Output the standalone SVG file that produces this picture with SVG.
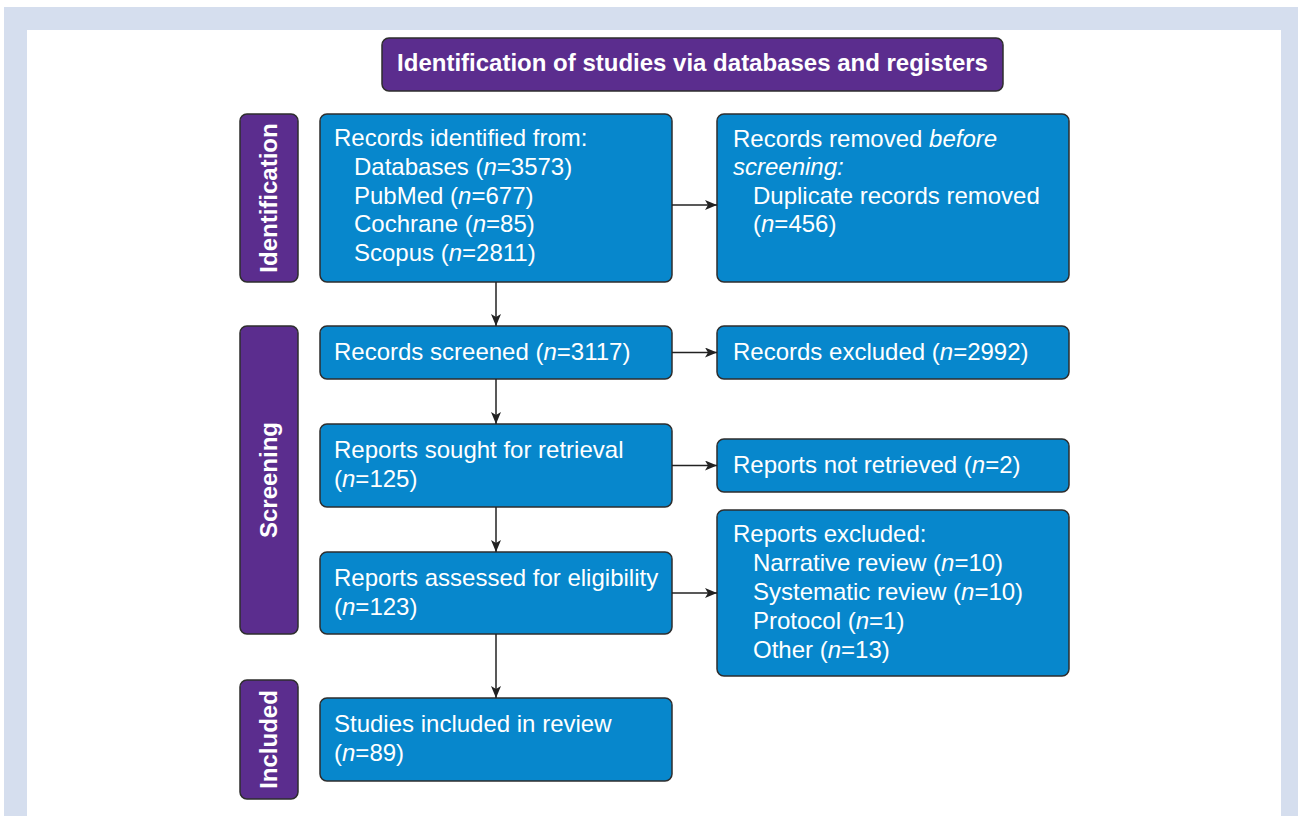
<svg xmlns="http://www.w3.org/2000/svg" width="1298" height="816" viewBox="0 0 1298 816">
<style>
.box{fill:#0787CC;stroke:#2e2e2e;stroke-width:1.5}
.lab{fill:#5B2D8E;stroke:#2e2e2e;stroke-width:1.5}
.t{font-family:"Liberation Sans",Arial,sans-serif;font-size:24px;fill:#ffffff}
.b{font-family:"Liberation Sans",Arial,sans-serif;font-size:24px;font-weight:bold;fill:#ffffff}
.c{stroke:#222;stroke-width:1.5;fill:none}
</style>
<defs>
<marker id="ah" viewBox="0 0 12 10" refX="12" refY="5" markerWidth="12" markerHeight="10" markerUnits="userSpaceOnUse" orient="auto">
<path d="M0,0 L12,5 L0,10 L3,5 Z" fill="#222"/>
</marker>
</defs>
<rect x="4" y="7" width="1294" height="809" fill="#D5DEEE"/>
<rect x="27" y="30" width="1254" height="786" fill="#ffffff"/>

<g id="title">
<rect class="lab" x="382" y="38" width="621" height="53" rx="7"/>
<text class="b" x="692.5" y="71" text-anchor="middle">Identification of studies via databases and registers</text>
</g>

<g id="lab-identification">
<rect class="lab" x="240" y="114" width="58" height="168" rx="7"/>
<text class="b" transform="translate(277,198) rotate(-90)" text-anchor="middle">Identification</text>
</g>
<g id="lab-screening">
<rect class="lab" x="240" y="326" width="58" height="308" rx="7"/>
<text class="b" transform="translate(277,480) rotate(-90)" text-anchor="middle">Screening</text>
</g>
<g id="lab-included">
<rect class="lab" x="240" y="680" width="58" height="119" rx="7"/>
<text class="b" transform="translate(277,739.5) rotate(-90)" text-anchor="middle">Included</text>
</g>

<g id="n-identified">
<rect class="box" x="320" y="114" width="352" height="168" rx="7"/>
<text class="t" x="334" y="146">Records identified from:</text>
<text class="t" x="354" y="175">Databases (<tspan font-style="italic">n</tspan>=3573)</text>
<text class="t" x="354" y="203.5">PubMed (<tspan font-style="italic">n</tspan>=677)</text>
<text class="t" x="354" y="232">Cochrane (<tspan font-style="italic">n</tspan>=85)</text>
<text class="t" x="354" y="261">Scopus (<tspan font-style="italic">n</tspan>=2811)</text>
</g>
<g id="n-removed">
<rect class="box" x="717" y="114" width="352" height="168" rx="7"/>
<text class="t" x="733" y="146.5">Records removed <tspan font-style="italic">before</tspan></text>
<text class="t" x="733" y="175" font-style="italic">screening:</text>
<text class="t" x="753" y="203.5">Duplicate records removed</text>
<text class="t" x="753" y="232">(<tspan font-style="italic">n</tspan>=456)</text>
</g>
<g id="n-screened">
<rect class="box" x="320" y="326" width="352" height="53" rx="7"/>
<text class="t" x="334" y="360">Records screened (<tspan font-style="italic">n</tspan>=3117)</text>
</g>
<g id="n-excluded">
<rect class="box" x="717" y="326" width="352" height="53" rx="7"/>
<text class="t" x="733" y="360">Records excluded (<tspan font-style="italic">n</tspan>=2992)</text>
</g>
<g id="n-sought">
<rect class="box" x="320" y="424" width="352" height="83" rx="7"/>
<text class="t" x="334" y="458">Reports sought for retrieval</text>
<text class="t" x="334" y="486.5">(<tspan font-style="italic">n</tspan>=125)</text>
</g>
<g id="n-notretrieved">
<rect class="box" x="717" y="439" width="352" height="53" rx="7"/>
<text class="t" x="733" y="473">Reports not retrieved (<tspan font-style="italic">n</tspan>=2)</text>
</g>
<g id="n-assessed">
<rect class="box" x="320" y="552" width="352" height="82" rx="7"/>
<text class="t" x="334" y="586">Reports assessed for eligibility</text>
<text class="t" x="334" y="614.5">(<tspan font-style="italic">n</tspan>=123)</text>
</g>
<g id="n-repexcluded">
<rect class="box" x="717" y="510" width="352" height="166" rx="7"/>
<text class="t" x="733" y="542">Reports excluded:</text>
<text class="t" x="753" y="571">Narrative review (<tspan font-style="italic">n</tspan>=10)</text>
<text class="t" x="753" y="600">Systematic review (<tspan font-style="italic">n</tspan>=10)</text>
<text class="t" x="753" y="629">Protocol (<tspan font-style="italic">n</tspan>=1)</text>
<text class="t" x="753" y="657.5">Other (<tspan font-style="italic">n</tspan>=13)</text>
</g>
<g id="n-included">
<rect class="box" x="320" y="698" width="352" height="83" rx="7"/>
<text class="t" x="334" y="732">Studies included in review</text>
<text class="t" x="334" y="761">(<tspan font-style="italic">n</tspan>=89)</text>
</g>

<g id="connectors">
<line class="c" x1="496" y1="282" x2="496" y2="326" marker-end="url(#ah)"/>
<line class="c" x1="496" y1="379" x2="496" y2="424" marker-end="url(#ah)"/>
<line class="c" x1="496" y1="507" x2="496" y2="552" marker-end="url(#ah)"/>
<line class="c" x1="496" y1="634" x2="496" y2="698" marker-end="url(#ah)"/>
<line class="c" x1="672" y1="205" x2="717" y2="205" marker-end="url(#ah)"/>
<line class="c" x1="672" y1="352.5" x2="717" y2="352.5" marker-end="url(#ah)"/>
<line class="c" x1="672" y1="465.5" x2="717" y2="465.5" marker-end="url(#ah)"/>
<line class="c" x1="672" y1="593" x2="717" y2="593" marker-end="url(#ah)"/>
</g>
</svg>
